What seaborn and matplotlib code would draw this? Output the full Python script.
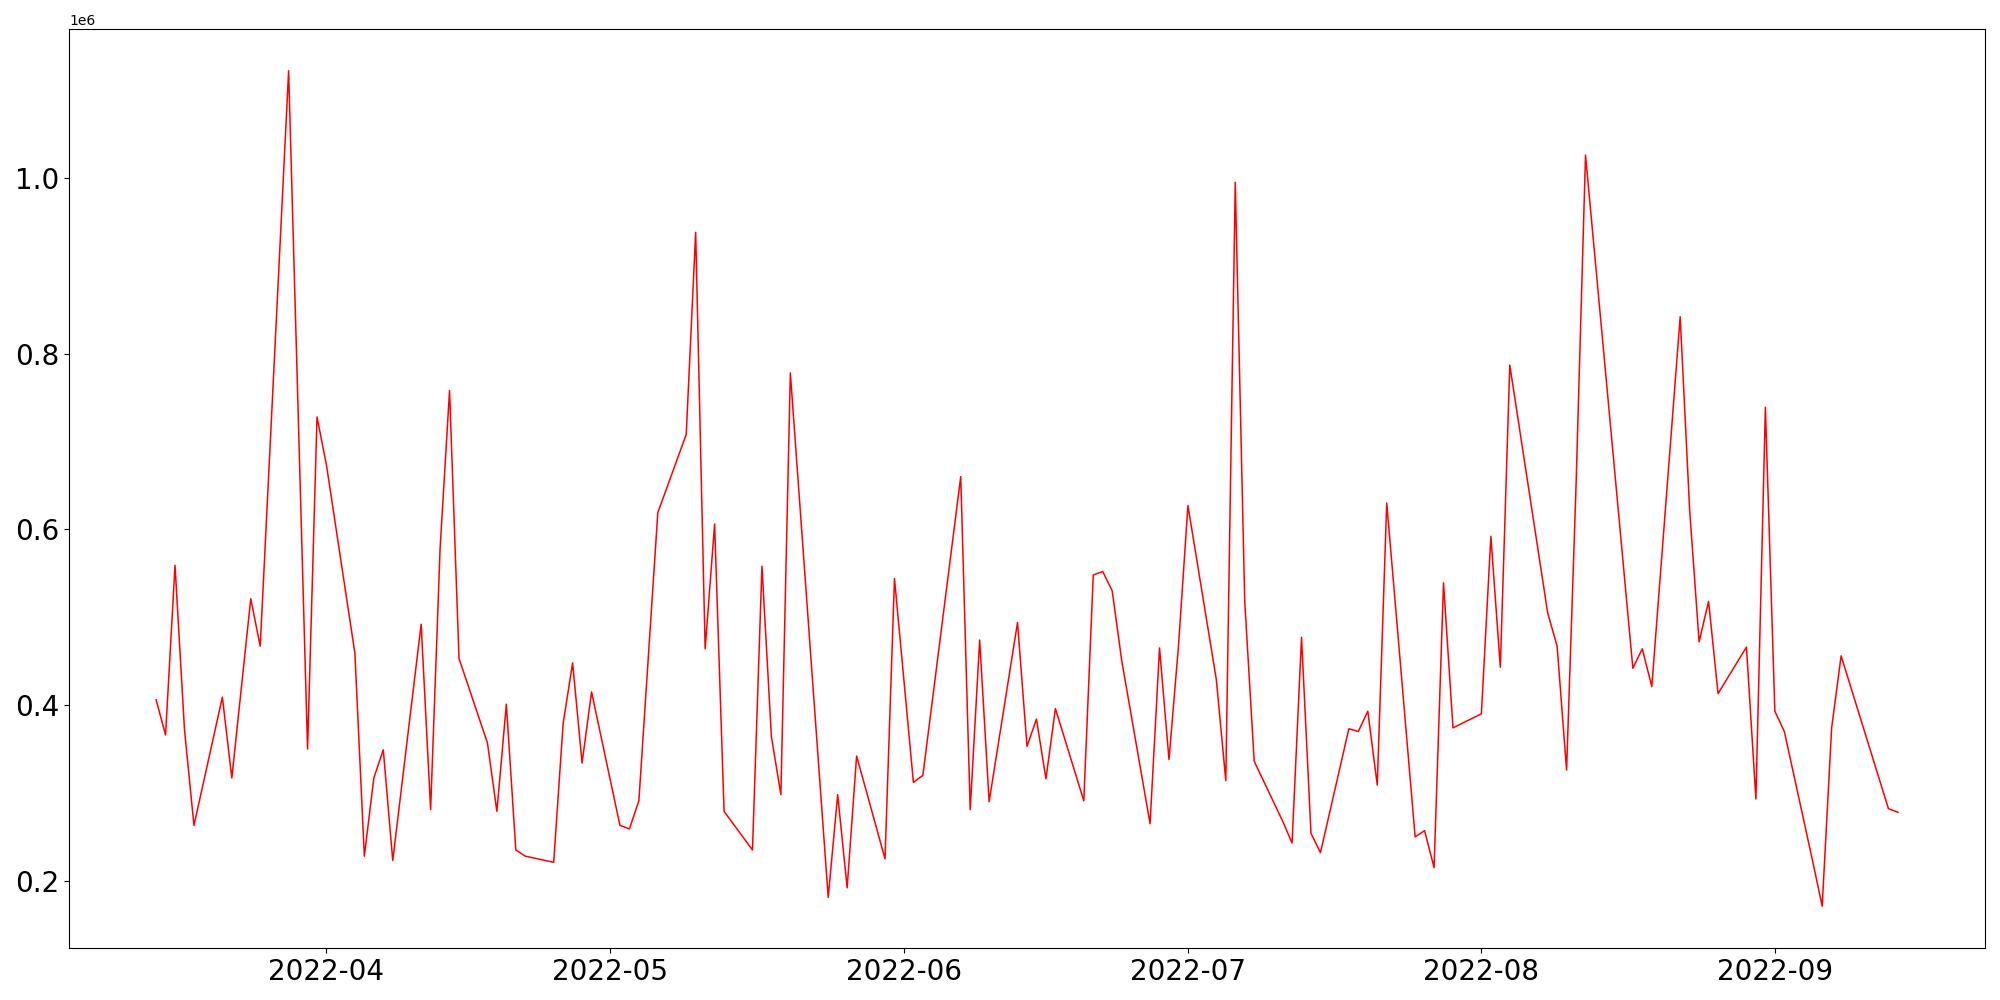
import matplotlib
matplotlib.use("Agg")
import matplotlib.pyplot as plt
import matplotlib.dates as mdates
import pandas as pd
import seaborn as sns

dates = [
    "2022-03-14", "2022-03-15", "2022-03-16", "2022-03-17", "2022-03-18",
    "2022-03-21", "2022-03-22", "2022-03-24", "2022-03-25",
    "2022-03-28", "2022-03-30", "2022-03-31", "2022-04-01",
    "2022-04-04", "2022-04-05", "2022-04-06", "2022-04-07", "2022-04-08",
    "2022-04-11", "2022-04-12", "2022-04-13", "2022-04-14", "2022-04-15",
    "2022-04-18", "2022-04-19", "2022-04-20", "2022-04-21", "2022-04-22",
    "2022-04-25", "2022-04-26", "2022-04-27", "2022-04-28", "2022-04-29",
    "2022-05-02", "2022-05-03", "2022-05-04", "2022-05-06",
    "2022-05-09", "2022-05-10", "2022-05-11", "2022-05-12", "2022-05-13",
    "2022-05-16", "2022-05-17", "2022-05-18", "2022-05-19", "2022-05-20",
    "2022-05-24", "2022-05-25", "2022-05-26", "2022-05-27",
    "2022-05-30", "2022-05-31", "2022-06-02", "2022-06-03",
    "2022-06-07", "2022-06-08", "2022-06-09", "2022-06-10",
    "2022-06-13", "2022-06-14", "2022-06-15", "2022-06-16", "2022-06-17",
    "2022-06-20", "2022-06-21", "2022-06-22", "2022-06-23", "2022-06-24",
    "2022-06-27", "2022-06-28", "2022-06-29", "2022-06-30", "2022-07-01",
    "2022-07-04", "2022-07-05", "2022-07-06", "2022-07-07", "2022-07-08",
    "2022-07-11", "2022-07-12", "2022-07-13", "2022-07-14", "2022-07-15",
    "2022-07-18", "2022-07-19", "2022-07-20", "2022-07-21", "2022-07-22",
    "2022-07-25", "2022-07-26", "2022-07-27", "2022-07-28", "2022-07-29",
    "2022-08-01", "2022-08-02", "2022-08-03", "2022-08-04",
    "2022-08-08", "2022-08-09", "2022-08-10", "2022-08-11", "2022-08-12",
    "2022-08-17", "2022-08-18", "2022-08-19",
    "2022-08-22", "2022-08-23", "2022-08-24", "2022-08-25", "2022-08-26",
    "2022-08-29", "2022-08-30", "2022-08-31", "2022-09-01", "2022-09-02",
    "2022-09-05", "2022-09-06", "2022-09-07", "2022-09-08",
    "2022-09-13", "2022-09-14",
]

values = [
    406000, 366000, 559000, 372000, 263000,
    409000, 317000, 521000, 467000,
    1122000, 350000, 728000, 673000,
    459000, 228000, 317000, 349000, 223000,
    492000, 281000, 578000, 758000, 453000,
    357000, 279000, 401000, 235000, 228000,
    221000, 379000, 448000, 334000, 415000,
    263000, 259000, 291000, 619000,
    708000, 938000, 464000, 606000, 279000,
    235000, 558000, 364000, 298000, 778000,
    181000, 298000, 192000, 342000,
    225000, 544000, 312000, 320000,
    660000, 281000, 474000, 290000,
    494000, 353000, 384000, 316000, 396000,
    291000, 548000, 552000, 530000, 451000,
    265000, 465000, 338000, 467000, 627000,
    429000, 314000, 995000, 518000, 336000,
    268000, 243000, 477000, 254000, 232000,
    373000, 370000, 393000, 309000, 630000,
    250000, 257000, 215000, 539000, 374000,
    390000, 592000, 443000, 787000,
    505000, 467000, 326000, 650000, 1026000,
    442000, 464000, 421000,
    842000, 622000, 472000, 518000, 413000,
    466000, 293000, 739000, 393000, 370000,
    222000, 171000, 374000, 456000,
    282000, 278000,
]

df = pd.DataFrame({"date": pd.to_datetime(dates), "value": values})

fig, ax = plt.subplots(figsize=(20, 10), dpi=100)
sns.lineplot(data=df, x="date", y="value", color="red", linewidth=1.1, ax=ax)

ax.set_xlabel("")
ax.set_ylabel("")
ax.xaxis.set_major_locator(mdates.MonthLocator())
ax.xaxis.set_major_formatter(mdates.DateFormatter("%Y-%m"))
ax.tick_params(axis="both", labelsize=20)

plt.subplots_adjust(left=0.0345, right=0.9925, top=0.971, bottom=0.052)
fig.savefig("out.png", dpi=100)
